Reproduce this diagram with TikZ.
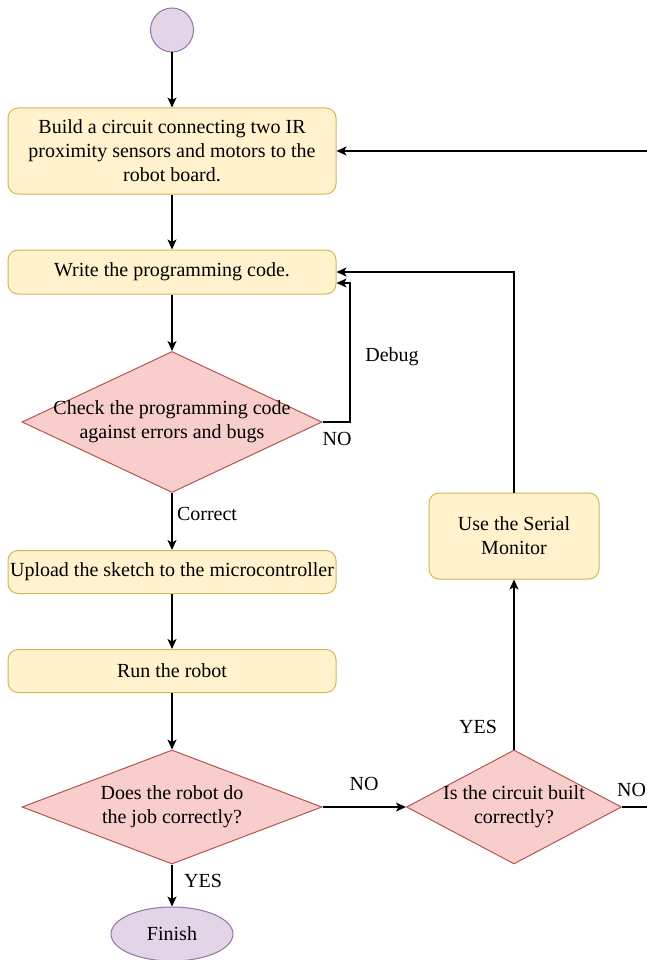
\documentclass[tikz,border=0pt]{standalone}
\usepackage{fontspec}
\setmainfont{Liberation Serif}
\usetikzlibrary{shapes.geometric,arrows.meta}
\definecolor{procfill}{HTML}{FFF2CC}
\definecolor{procline}{HTML}{D6B656}
\definecolor{decfill}{HTML}{F8CECC}
\definecolor{decline}{HTML}{B85450}
\definecolor{termfill}{HTML}{E1D5E7}
\definecolor{termline}{HTML}{9673A6}
\begin{document}
\begin{tikzpicture}[x=1pt,y=-1pt,
  every node/.style={font=\fontsize{20}{24}\selectfont},
  proc/.style={draw=procline, fill=procfill, rounded corners=10pt, line width=1pt, minimum width=328pt, align=center, inner sep=0pt},
  dec/.style={diamond, draw=decline, fill=decfill, line width=1pt, inner sep=0pt},
  term/.style={ellipse, draw=termline, fill=termfill, line width=1pt, inner sep=0pt},
  arr/.style={line width=1.2pt, -{Stealth[length=10pt,width=9pt,inset=2.5pt]}},
  lbl/.style={inner sep=0pt}]
\useasboundingbox (0,0) rectangle (647,960);
\clip (0,0) rectangle (647,960);
\fill[white] (0,0) rectangle (647,960);

\node[term, minimum width=43pt, minimum height=44pt] (s) at (172,30) {};
\node[proc, minimum height=86pt] (b1) at (172,151) {Build a circuit connecting two IR\\proximity sensors and motors to the\\robot board.};
\node[proc, minimum height=44pt] (b2) at (172,272) {Write the programming code.};
\node[dec, minimum width=300pt, minimum height=141pt,
  label={[align=center,inner sep=0pt]center:Check the programming code\\against errors and bugs}] (d1) at (172,422) {};
\node[proc, minimum height=43pt] (b4) at (172,572) {Upload the sketch to the microcontroller};
\node[proc, minimum height=43pt] (b5) at (172,671) {Run the robot};
\node[dec, minimum width=300pt, minimum height=114pt,
  label={[align=center,inner sep=0pt]center:Does the robot do\\the job correctly?}] (d2) at (172,807) {};
\node[dec, minimum width=215pt, minimum height=114pt,
  label={[align=center,inner sep=0pt]center:Is the circuit built\\correctly?}] (d3) at (514,807) {};
\node[proc, minimum width=170pt, minimum height=86pt] (b3) at (514,536) {Use the Serial\\Monitor};
\node[term, minimum width=122pt, minimum height=54pt] (f) at (172,934) {Finish};

\coordinate (dbg) at (350,422);
\coordinate (edge) at (672,807);

\draw[arr] (s) -- (b1);
\draw[arr] (b1) -- (b2);
\draw[arr] (b2) -- (d1);
\draw[arr] (d1.east) -- (dbg) |- ([yshift=-11pt]b2.east);
\draw[arr] (d1) -- (b4);
\draw[arr] (b4) -- (b5);
\draw[arr] (b5) -- (d2);
\draw[arr] (d2) -- (f);
\draw[arr] (d2) -- (d3);
\draw[arr] (d3) -- (b3);
\draw[arr] (b3.north) |- (b2.east);
\draw[arr] (d3.east) -- (edge) |- (b1.east);

\node[lbl] (ldebug) at (392,357) {Debug};
\node[lbl] (lno1) at (337,439) {NO};
\node[lbl] (lcorrect) at (207,514) {Correct};
\node[lbl] (lno2) at (364,784) {NO};
\node[lbl] (lyes1) at (478,727) {YES};
\node[lbl, anchor=west] (lno3) at (617,790) {NO};
\node[lbl] (lyes2) at (203,881) {YES};
\end{tikzpicture}
\end{document}
